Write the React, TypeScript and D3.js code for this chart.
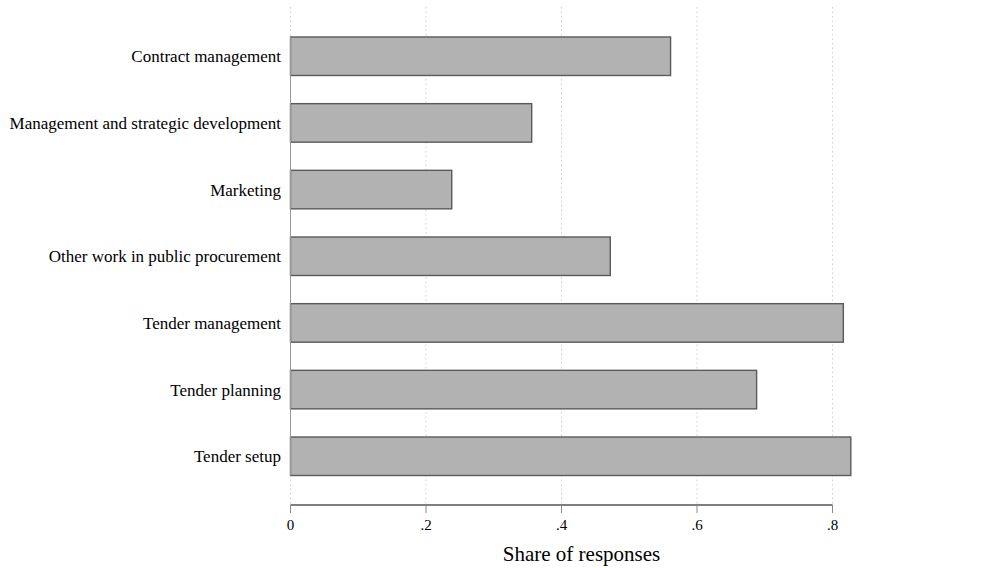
import React from "react";
import * as d3 from "d3";

const categories = [
  "Contract management",
  "Management and strategic development",
  "Marketing",
  "Other work in public procurement",
  "Tender management",
  "Tender planning",
  "Tender setup",
];
const values = [0.561, 0.356, 0.238, 0.472, 0.816, 0.688, 0.827];
const xTicks = [0, 0.2, 0.4, 0.6, 0.8];
const xTickLabels = ["0", ".2", ".4", ".6", ".8"];
const xTitle = "Share of responses";

export default function App() {
  const W = 997, H = 568;
  const x0 = 290.5, x1 = 832.5;
  const plotTop = 7, plotBottom = 505;
  const x = d3.scaleLinear().domain([0, 0.8]).range([x0, x1]);
  const y = d3.scaleBand().domain(categories).range([22.9, 489.6]).paddingInner(0.4225).paddingOuter(0.21125);
  const font = "'Liberation Serif', 'Times New Roman', serif";
  const bw = y.bandwidth();
  return (
    <svg width={W} height={H} style={{ position: "absolute", left: 0, top: 0, background: "#fff" }}>
      <rect width={W} height={H} fill="#fff" />
      {xTicks.map((t, i) => (
        <line key={"g" + i} x1={x(t)} x2={x(t)} y1={plotTop} y2={plotBottom} stroke="#d0d0d0" strokeWidth={1} strokeDasharray="1.5,3" />
      ))}
      {categories.map((c, i) => (
        <g key={c}>
          <rect x={x(0)} y={y(c)!} width={x(values[i]) - x(0)} height={bw} fill="#b2b2b2" stroke="#5a5a5a" strokeWidth={1.4} />
          <text x={281} y={y(c)! + bw / 2 + 6.2} textAnchor="end" fontFamily={font} fontSize={17} fill="#000">{c}</text>
        </g>
      ))}
      <line x1={x0} x2={x0} y1={y(categories[0])!} y2={y(categories[categories.length - 1])! + bw} stroke="#999" strokeWidth={1} />
      <line x1={x0} x2={x1} y1={plotBottom} y2={plotBottom} stroke="#000" strokeWidth={1.2} />
      {xTicks.map((t, i) => (
        <g key={"t" + i}>
          <line x1={x(t)} x2={x(t)} y1={plotBottom} y2={plotBottom + 8} stroke="#888" strokeWidth={1} />
          <text x={x(t)} y={530} textAnchor="middle" fontFamily={font} fontSize={15} fill="#000">{xTickLabels[i]}</text>
        </g>
      ))}
      <text x={581.5} y={561} textAnchor="middle" fontFamily={font} fontSize={21} fill="#000">{xTitle}</text>
    </svg>
  );
}
